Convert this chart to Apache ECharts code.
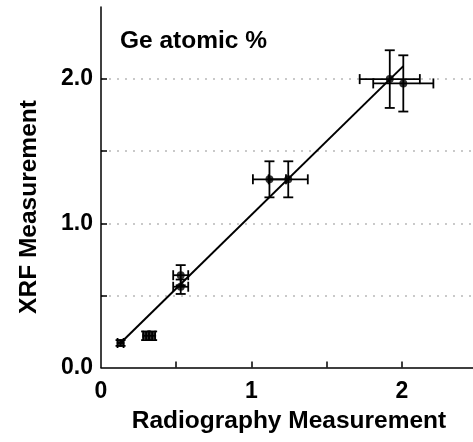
<!DOCTYPE html>
<html>
<head>
<meta charset="utf-8">
<script src="https://cdn.jsdelivr.net/npm/echarts@6/dist/echarts.min.js"></script>
<style>
html,body{margin:0;padding:0;background:#fff;}
#chart{width:473px;height:442px;}
</style>
</head>
<body>
<div id="chart"></div>
<script>
// Data
var radiography = [0.13, 0.30, 0.34, 0.53, 0.53, 1.12, 1.245, 1.92, 2.01];
var xrf         = [0.17, 0.22, 0.22, 0.64, 0.56, 1.305, 1.305, 2.00, 1.97];
var radErr      = [0.02, 0.02, 0.02, 0.05, 0.05, 0.11, 0.13, 0.20, 0.20];
var xrfErr      = [0.02, 0.03, 0.03, 0.07, 0.05, 0.125, 0.125, 0.20, 0.195];
var fitX = [0.13, 2.01];
var fitY = [0.17, 2.09];
var xTickLabels = ['0', '1', '2'];
var yTickLabels = ['0.0', '1.0', '2.0'];
var tickValues = [0.5, 1, 1.5, 2];
var annotation = 'Ge atomic %';
var xTitle = 'Radiography Measurement';
var yTitle = 'XRF Measurement';

var FONT = '"Liberation Sans", Arial, sans-serif';

var points = radiography.map(function (x, i) { return [x, xrf[i]]; });
var errRows = radiography.map(function (x, i) { return [x, xrf[i], radErr[i], xrfErr[i]]; });
var fitLine = fitX.map(function (x, i) { return [x, fitY[i]]; });

var chart = echarts.init(document.getElementById('chart'), null, {renderer: 'canvas'});
var cap = 5;
var errStyle = {stroke: '#000', lineWidth: 1.8};

chart.setOption({
  animation: false,
  backgroundColor: '#fff',
  grid: {left: 101, top: 7, width: 376, height: 360.5, containLabel: false, outerBoundsMode: 'none'},
  xAxis: {
    type: 'value', min: 0, max: 2.5, interval: 0.5,
    name: xTitle, nameLocation: 'middle', nameGap: 38,
    nameTextStyle: {fontFamily: FONT, fontWeight: 'bold', fontSize: 24.5, color: '#000'},
    axisLine: {lineStyle: {color: '#000', width: 1.5}},
    axisTick: {inside: true, length: 6, customValues: tickValues, lineStyle: {color: '#000', width: 1.5}},
    axisLabel: {
      fontFamily: FONT, fontWeight: 'bold', fontSize: 23, color: '#000', margin: 13,
      formatter: function (v) { var i = xTickLabels.indexOf(String(v)); return i >= 0 ? xTickLabels[i] : ''; }
    },
    splitLine: {show: false}
  },
  yAxis: {
    type: 'value', min: 0, max: 2.5, interval: 0.5,
    axisLine: {lineStyle: {color: '#000', width: 1.5}},
    axisTick: {inside: true, length: 6, customValues: tickValues, lineStyle: {color: '#000', width: 1.5}},
    axisLabel: {
      fontFamily: FONT, fontWeight: 'bold', fontSize: 23, color: '#000', margin: 8,
      formatter: function (v) { var s = v.toFixed(1); return yTickLabels.indexOf(s) >= 0 ? s : ''; }
    },
    splitLine: {show: true, showMinLine: true, showMaxLine: true,
      lineStyle: {color: '#b8b8b8', type: [2, 6], width: 1.5}}
  },
  graphic: [
    {
      type: 'text', left: 120, top: 29,
      style: {text: annotation, font: 'bold 24.5px ' + FONT, fill: '#000'}
    },
    {
      type: 'text', x: 29, y: 207, rotation: Math.PI / 2,
      style: {text: yTitle, font: 'bold 24.5px ' + FONT, fill: '#000', align: 'center', verticalAlign: 'middle'}
    }
  ],
  series: [
    {
      type: 'line', data: fitLine, symbol: 'none', z: 2,
      lineStyle: {color: '#000', width: 2}
    },
    {
      type: 'custom', data: errRows, z: 3,
      renderItem: function (params, api) {
        var x = api.value(0), y = api.value(1), ex = api.value(2), ey = api.value(3);
        var l = api.coord([x - ex, y]), r = api.coord([x + ex, y]);
        var t = api.coord([x, y + ey]), b = api.coord([x, y - ey]);
        return {type: 'group', children: [
          {type: 'line', shape: {x1: l[0], y1: l[1], x2: r[0], y2: r[1]}, style: errStyle},
          {type: 'line', shape: {x1: l[0], y1: l[1] - cap, x2: l[0], y2: l[1] + cap}, style: errStyle},
          {type: 'line', shape: {x1: r[0], y1: r[1] - cap, x2: r[0], y2: r[1] + cap}, style: errStyle},
          {type: 'line', shape: {x1: t[0], y1: t[1], x2: b[0], y2: b[1]}, style: errStyle},
          {type: 'line', shape: {x1: t[0] - cap, y1: t[1], x2: t[0] + cap, y2: t[1]}, style: errStyle},
          {type: 'line', shape: {x1: b[0] - cap, y1: b[1], x2: b[0] + cap, y2: b[1]}, style: errStyle}
        ]};
      }
    },
    {
      type: 'scatter', data: points, symbol: 'circle', symbolSize: 8, z: 4,
      itemStyle: {color: '#000'}
    }
  ]
});
</script>
</body>
</html>
